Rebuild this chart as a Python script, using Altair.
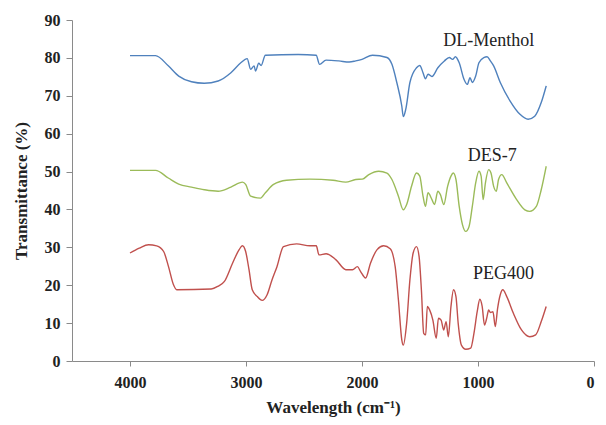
import altair as alt
import pandas as pd

menthol_w = [4000,3780,3670,3580,3470,3360,3240,3130,3045,2990,2960,2930,2918,2890,2870,2833,2550,2395,2366,2310,2200,2110,2054,2000,1910,1785,1742,1700,1657,1644,1623,1587,1530,1502,1474,1453,1431,1397,1346,1290,1247,1219,1195,1162,1120,1092,1069,1049,1020,992,950,922,893,865,808,723,638,568,511,455,412]
menthol_t = [80.6,80.6,77.9,75.2,73.7,73.3,73.9,76.1,78.7,79.8,77.0,77.9,76.5,78.6,78.0,80.7,80.9,80.7,78.3,79.4,79.2,78.9,79.2,79.6,80.7,80.1,78.3,73.5,67.3,64.5,66.4,73.5,77.4,78.0,76.1,74.5,75.7,75.1,77.4,79.2,80.1,79.6,80.3,78.7,74.3,73.0,74.8,73.5,75.2,78.7,80.1,80.3,79.2,77.9,73.5,68.6,65.1,63.8,64.6,68.2,72.6]

des_w = [4000,3780,3670,3580,3470,3360,3240,3130,3030,3003,2960,2875,2833,2762,2650,2450,2250,2140,2054,1997,1941,1856,1785,1742,1686,1644,1615,1573,1530,1502,1474,1453,1431,1397,1375,1346,1324,1295,1262,1233,1213,1190,1162,1134,1105,1077,1049,1020,992,973,956,936,908,888,865,842,823,795,752,667,596,554,497,455,412]
des_t = [50.3,50.3,48.3,46.7,45.9,45.2,44.8,45.9,47.2,46.6,43.5,43.0,44.4,46.6,47.7,48.0,47.7,47.2,47.9,48.0,49.2,50.1,49.6,47.9,43.5,39.9,41.3,46.1,49.6,48.8,43.5,40.8,44.4,42.6,41.3,44.8,43.9,41.3,46.1,48.8,49.6,47.9,40.8,36.0,34.2,35.5,40.8,47.0,50.1,48.8,42.6,47.0,50.5,49.6,46.1,44.8,47.9,49.2,47.0,42.6,39.9,39.5,40.8,45.2,51.4]

peg_w = [4000,3920,3840,3770,3710,3668,3625,3597,3300,3243,3186,3116,3059,3031,3003,2974,2946,2903,2861,2818,2776,2733,2677,2564,2450,2394,2371,2309,2224,2139,2082,2040,2012,1969,1927,1870,1813,1757,1714,1686,1657,1644,1615,1587,1559,1530,1508,1488,1468,1451,1437,1417,1389,1360,1341,1318,1296,1275,1256,1233,1211,1190,1171,1143,1105,1063,1035,1007,984,964,944,922,908,893,871,851,831,808,786,752,695,625,554,503,455,412]
peg_t = [28.5,29.8,30.7,30.4,28.9,24.9,20.1,18.8,19.0,19.7,21.0,25.8,29.4,30.4,28.9,24.1,18.8,17.0,16.0,17.5,21.4,24.9,30.2,30.9,30.4,30.4,28.0,28.3,26.7,24.1,24.1,24.9,23.6,21.9,25.8,29.4,30.4,29.6,24.9,16.1,5.6,4.2,10.0,21.4,28.5,30.2,27.6,18.8,7.3,6.9,14.4,13.5,10.8,6.0,11.3,10.8,8.2,10.4,6.4,14.4,18.8,17.0,10.0,4.2,3.1,3.4,7.3,13.0,16.3,14.4,9.5,11.7,13.5,12.8,13.0,9.1,13.9,17.5,18.8,17.0,12.6,8.2,6.4,6.9,10.4,14.4]

series_names = ["DL-Menthol", "DES-7", "PEG400"]
series_colors = ["#4F81BD", "#9BBB59", "#C0504D"]
label_w = [908, 878, 780]
label_t = [84.5, 54.1, 23.0]

x_ticks = [0, 1000, 2000, 3000, 4000]
y_ticks = [0, 10, 20, 30, 40, 50, 60, 70, 80, 90]

rows = []
for name, ws, ts in zip(series_names, [menthol_w, des_w, peg_w], [menthol_t, des_t, peg_t]):
    for w, t in zip(ws, ts):
        rows.append({"series": name, "w": w, "t": t})
df = pd.DataFrame(rows)
labels = pd.DataFrame({"series": series_names, "w": label_w, "t": label_t})

xscale = alt.Scale(domain=[0, 4500], reverse=True, nice=False)
yscale = alt.Scale(domain=[0, 90], nice=False)

x_axis = alt.Axis(values=x_ticks, format="d", title="Wavelength (cm⁻¹)",
                  grid=False, tickSize=5, labelPadding=8, titlePadding=9,
                  labelOverlap=False)
y_axis = alt.Axis(values=y_ticks, format="d", title="Transmittance (%)",
                  grid=False, tickSize=6, labelPadding=6, titlePadding=14,
                  labelOverlap=False)

lines = alt.Chart(df).mark_line(strokeWidth=1.4, interpolate="monotone").encode(
    x=alt.X("w:Q", scale=xscale, axis=x_axis),
    y=alt.Y("t:Q", scale=yscale, axis=y_axis),
    color=alt.Color("series:N", scale=alt.Scale(domain=series_names, range=series_colors), legend=None),
    detail="series:N",
)

texts = alt.Chart(labels).mark_text(font="Liberation Serif", fontSize=18, color="#222222",
                                    align="center", baseline="middle").encode(
    x=alt.X("w:Q", scale=xscale, axis=x_axis),
    y=alt.Y("t:Q", scale=yscale, axis=y_axis),
    text="series:N",
)

chart = (lines + texts).properties(
    width=522, height=341,
    autosize=alt.AutoSizeParams(type="none"),
    padding={"left": 64, "top": 12, "right": 4, "bottom": 56},
).configure_view(stroke=None).configure_axis(
    domainColor="#8a8a8a", tickColor="#8a8a8a",
    labelFont="Liberation Serif", labelFontSize=16, labelFontWeight="bold", labelColor="#222222",
    titleFont="Liberation Serif", titleFontSize=17, titleFontWeight="bold", titleColor="#222222",
)

chart.save("out.html", embed_options={"renderer": "svg", "actions": False})
